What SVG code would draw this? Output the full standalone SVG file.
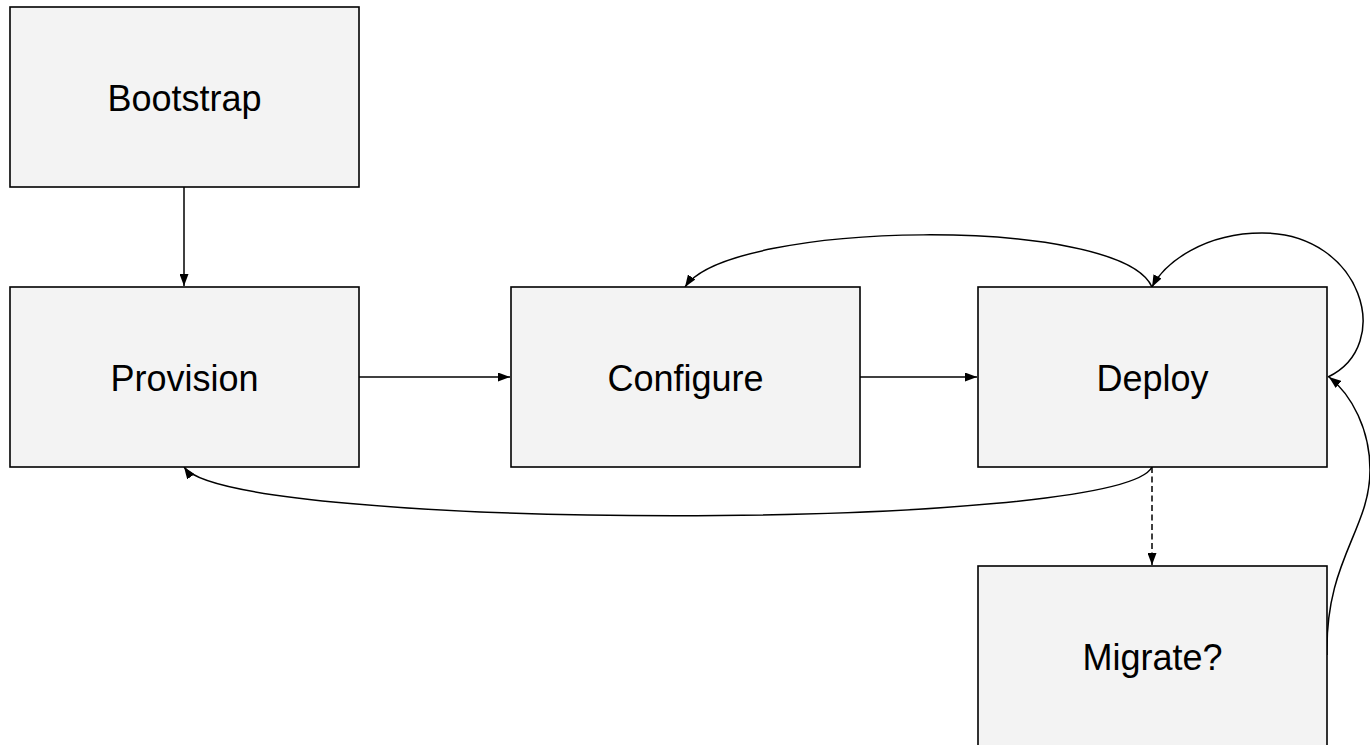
<svg xmlns="http://www.w3.org/2000/svg" width="1370" height="745" viewBox="0 0 1370 745">
  <style>
    .box { fill: #f3f3f3; stroke: #000; stroke-width: 1.6; }
    .label { font-family: "Liberation Sans", Arial, sans-serif; font-size: 36px; fill: #000; text-anchor: middle; }
    .edge { fill: none; stroke: #000; stroke-width: 1.5; }
    .dashed { stroke-dasharray: 6 3.5; }
  </style>
  <defs>
    <marker id="arrow" viewBox="0 0 12 9" refX="12" refY="4.5" markerWidth="12" markerHeight="9" markerUnits="userSpaceOnUse" orient="auto">
      <path d="M0,0 L12,4.5 L0,9 Z" fill="#000"/>
    </marker>
  </defs>
  <rect width="1370" height="745" fill="#fff"/>

  <g id="connectors">
    <path class="edge" d="M184,187 L184,286" marker-end="url(#arrow)"/>
    <path class="edge" d="M359,377 L510,377" marker-end="url(#arrow)"/>
    <path class="edge" d="M860,377 L977,377" marker-end="url(#arrow)"/>
    <path class="edge" d="M1152,287 C1120,215 730,220 685,287" marker-end="url(#arrow)"/>
    <path class="edge" d="M1152,467 C1120,532 230,532 184,467" marker-end="url(#arrow)"/>
    <path class="edge dashed" d="M1152,467 L1152,565" marker-end="url(#arrow)"/>
    <path class="edge" d="M1328,377 C1395,345 1362,233 1262,233 C1205,233 1165,262 1152,287" marker-end="url(#arrow)"/>
    <path class="edge" d="M1327,655 C1325,560 1370,530 1370,470 C1370,430 1352,395 1329,377" marker-end="url(#arrow)"/>
  </g>

  <g id="bootstrap">
    <rect class="box" x="10" y="7" width="349" height="180"/>
    <text class="label" x="184.5" y="111">Bootstrap</text>
  </g>
  <g id="provision">
    <rect class="box" x="10" y="287" width="349" height="180"/>
    <text class="label" x="184.5" y="391">Provision</text>
  </g>
  <g id="configure">
    <rect class="box" x="511" y="287" width="349" height="180"/>
    <text class="label" x="685.5" y="391">Configure</text>
  </g>
  <g id="deploy">
    <rect class="box" x="978" y="287" width="349" height="180"/>
    <text class="label" x="1152.5" y="391">Deploy</text>
  </g>
  <g id="migrate">
    <rect class="box" x="978" y="566" width="349" height="180"/>
    <text class="label" x="1152.5" y="670">Migrate?</text>
  </g>
</svg>
